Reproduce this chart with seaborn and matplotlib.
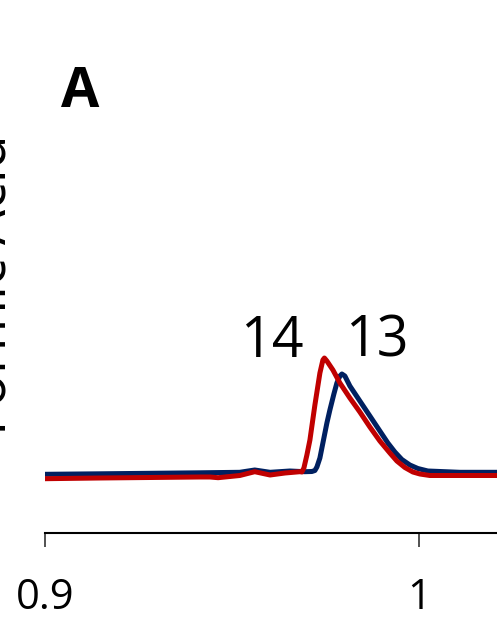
import pandas as pd
import numpy as np
import matplotlib
matplotlib.use("Agg")
import matplotlib.pyplot as plt
import seaborn as sns

# retention time (min) and signal for the two traces
rt_14 = [0.9000, 0.9147, 0.9281, 0.9414, 0.9441, 0.9463, 0.9521, 0.9561, 0.9602,
         0.9642, 0.9682, 0.9687, 0.96925, 0.97005, 0.97086, 0.97219, 0.97353, 0.97433,
         0.97473, 0.97540, 0.97701, 0.97888, 0.98155, 0.98422, 0.98690, 0.98957,
         0.99225, 0.99412, 0.99626, 0.99840, 1.00027, 1.00294, 1.0110, 1.0209]
sig_14 = [5.43, 5.50, 5.55, 5.60, 5.60, 5.53, 5.75, 6.13, 5.80,
          6.00, 6.13, 6.10, 6.50, 7.80, 9.30, 12.8, 16.0, 17.3,
          17.5, 17.2, 16.3, 15.0, 13.5, 12.1, 10.6, 9.20,
          8.00, 7.20, 6.55, 6.10, 5.90, 5.75, 5.75, 5.75]

rt_13 = [0.9000, 0.9147, 0.9281, 0.9414, 0.9521, 0.9561, 0.9602, 0.9655, 0.9695,
         0.97139, 0.97219, 0.97273, 0.97353, 0.97433, 0.97540, 0.97620, 0.97727,
         0.97807, 0.97888, 0.97941, 0.98021, 0.98155, 0.98422, 0.98690, 0.98957,
         0.99171, 0.99358, 0.99545, 0.99759, 0.99973, 1.00241, 1.0110, 1.0209]
sig_13 = [5.87, 5.92, 5.97, 6.02, 6.07, 6.30, 6.07, 6.20, 6.13,
          6.15, 6.25, 6.60, 7.50, 9.00, 11.0, 12.3, 13.9,
          15.0, 15.7, 15.9, 15.7, 14.7, 13.2, 11.7, 10.2,
          9.00, 8.10, 7.35, 6.80, 6.45, 6.20, 6.07, 6.07]

peak_labels = ["14", "13"]
label_x = [0.9607, 0.9888]
label_y = [17.6, 17.6]

df = pd.concat([
    pd.DataFrame({"rt": rt_13, "signal": sig_13, "sample": "13"}),
    pd.DataFrame({"rt": rt_14, "signal": sig_14, "sample": "14"}),
])

sns.set_style("white")
plt.rcParams['font.family'] = ['Open Sans', 'DejaVu Sans']
plt.rcParams['text.color'] = 'black'
plt.rcParams['xtick.labelcolor'] = 'black'

fig = plt.figure(figsize=(4.97, 6.18), dpi=100)
ax = fig.add_axes([45 / 497, 85 / 618, 1 - 45 / 497, 533 / 618])

palette = {"13": "#002060", "14": "#C00000"}
sns.lineplot(data=df, x="rt", y="signal", hue="sample", palette=palette,
             linewidth=3.6, sort=False, legend=False, ax=ax)

for lab, lx, ly in zip(peak_labels, label_x, label_y):
    ax.text(lx, ly, lab, fontsize=40, ha="center", va="baseline", color="black")

ax.set_xlim(0.9, 1.0209)
ax.set_ylim(0, 53.3)
ax.set_xticks([0.9, 1.0])
ax.set_xticklabels(["0.9", "1"])
ax.set_yticks([])
ax.set_xlabel("")
ax.set_ylabel("")
for s in ["left", "top", "right"]:
    ax.spines[s].set_visible(False)
ax.spines["bottom"].set_color("black")
ax.spines["bottom"].set_linewidth(1.5)
ax.tick_params(axis="x", direction="out", length=10, width=1.2, color="#333333",
               labelsize=30, pad=22, bottom=True, labelcolor="black")

fig.text(80 / 497, 1 - 107 / 618, "A", fontsize=40, fontweight="bold",
         ha="center", va="baseline", color="black")
fig.text(21 / 497, 1 - 285 / 618, "Formic Acid", fontsize=40, rotation=90,
         ha="right", va="center", color="black")

fig.savefig("out.png", dpi=100)
